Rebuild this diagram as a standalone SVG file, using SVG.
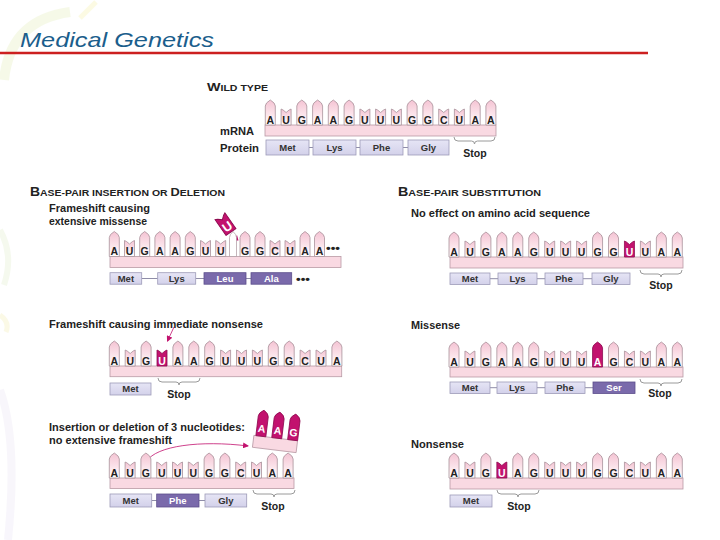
<svg xmlns="http://www.w3.org/2000/svg" width="720" height="540" viewBox="0 0 720 540">
<style>
.b{fill:url(#bg);stroke:#a8929b;stroke-width:0.8}
.m{fill:#c2126e;stroke:#8e0b50;stroke-width:0.8}
.w{fill:#ffffff;stroke:#a8929b;stroke-width:0.8}
.bar{fill:#f9d9e2;stroke:#b89aa5;stroke-width:0.8}
.l{font-family:"Liberation Sans",Arial,sans-serif;font-weight:bold;font-size:10.5px;fill:#222;text-anchor:middle}
.lw{font-family:"Liberation Sans",Arial,sans-serif;font-weight:bold;font-size:10.5px;fill:#fff;text-anchor:middle}
.p{fill:url(#pg);stroke:#9d9bb8;stroke-width:0.8}
.pd{fill:#7a6aab;stroke:#5d4f8c;stroke-width:0.8}
.pt{font-family:"Liberation Sans",Arial,sans-serif;font-weight:bold;font-size:9.5px;fill:#333;text-anchor:middle}
.ptw{font-family:"Liberation Sans",Arial,sans-serif;font-weight:bold;font-size:9.5px;fill:#fff;text-anchor:middle}
.c{stroke:#8f8da8;stroke-width:1;fill:none}
.br{stroke:#9a9a9a;stroke-width:1;fill:none}
.s{font-family:"Liberation Sans",Arial,sans-serif;font-weight:bold;font-size:10.5px;fill:#222;text-anchor:middle}
.t{font-family:"Liberation Sans",Arial,sans-serif;font-weight:bold;font-size:10px;fill:#222}
.arr{stroke:#c2126e;stroke-width:0.8;fill:none}
</style>
<defs>
<linearGradient id="bg" x1="0" y1="0" x2="0" y2="1">
<stop offset="0" stop-color="#f4c3d3"/>
<stop offset="0.55" stop-color="#fbe3ea"/>
<stop offset="1" stop-color="#ffffff"/>
</linearGradient>
<linearGradient id="pg" x1="0" y1="0" x2="0" y2="1">
<stop offset="0" stop-color="#e6e5f5"/>
<stop offset="1" stop-color="#d3d1ea"/>
</linearGradient>
<path id="pur" d="M-5,0 V-19 Q-5,-22 0,-25 Q5,-22 5,-19 V0 Z"/>
<path id="pyr" d="M-5,0 V-16 L-3,-15 L0,-12.5 L3,-15 L5,-16 V0 Z"/>
<marker id="ah" markerWidth="6" markerHeight="6" refX="5" refY="3" orient="auto" markerUnits="userSpaceOnUse">
<path d="M0,0 L6,3 L0,6 Z" fill="#c2126e"/>
</marker>
</defs>
<rect width="720" height="540" fill="#ffffff"/>
<g id="background" fill="none" opacity="0.35">
<path d="M4,80 Q10,20 70,12" stroke="#e6f0c0" stroke-width="10"/>
<path d="M80,18 L96,2" stroke="#f7f3b0" stroke-width="5"/>
<path d="M0,230 Q14,255 4,285" stroke="#e4efd0" stroke-width="6"/>
<path d="M0,315 Q10,322 6,332" stroke="#f5f0b8" stroke-width="5"/>
<path d="M0,390 Q18,440 8,540" stroke="#ece6f5" stroke-width="8"/>
</g>
<g id="title">
<text x="20" y="47" font-family="Liberation Sans,Arial,sans-serif" font-style="italic" font-size="21" fill="#1b5e8c" textLength="194" lengthAdjust="spacingAndGlyphs">Medical Genetics</text>
<line x1="0" y1="53" x2="648" y2="53" stroke="#cc2020" stroke-width="2.5"/>
</g>

<g id="connectors">
<line class="c" x1="309" y1="147.5" x2="313" y2="147.5"/>
<line class="c" x1="356" y1="147.5" x2="360" y2="147.5"/>
<line class="c" x1="403" y1="147.5" x2="408" y2="147.5"/>
<line class="c" x1="141.7" y1="278.5" x2="157.7" y2="278.5"/>
<line class="c" x1="195.7" y1="278.5" x2="204" y2="278.5"/>
<line class="c" x1="246" y1="278.5" x2="251" y2="278.5"/>
<line class="c" x1="490" y1="278.7" x2="498" y2="278.7"/>
<line class="c" x1="537" y1="278.7" x2="545" y2="278.7"/>
<line class="c" x1="583" y1="278.7" x2="592" y2="278.7"/>
<line class="c" x1="490" y1="387.7" x2="497" y2="387.7"/>
<line class="c" x1="537" y1="387.7" x2="545" y2="387.7"/>
<line class="c" x1="585" y1="387.7" x2="593" y2="387.7"/>
<line class="c" x1="151.7" y1="500.5" x2="156.7" y2="500.5"/>
<line class="c" x1="199" y1="500.5" x2="205" y2="500.5"/>
<path d="M233.5,240.5 L238.5,240.5 L237,235 Z" fill="#c2126e"/>
<line class="arr" x1="174" y1="327" x2="167.5" y2="341" marker-end="url(#ah)"/>
<path class="arr" d="M147,461 C156,446 200,440 248,446" marker-end="url(#ah)"/>
</g>

<g id="wild-type">
<text class="t" x="207" y="91" textLength="61" lengthAdjust="spacingAndGlyphs"><tspan font-size="11.5">W</tspan><tspan font-size="8.5">ILD TYPE</tspan></text>
<text class="t" x="220" y="135" textLength="34" lengthAdjust="spacingAndGlyphs">mRNA</text>
<text class="t" x="220" y="152" textLength="39" lengthAdjust="spacingAndGlyphs">Protein</text>
<rect class="bar" x="265" y="125" width="231" height="11"/>
<use href="#pur" class="b" x="270.3" y="125"/><text class="l" x="270.3" y="123.5">A</text>
<use href="#pyr" class="b" x="286.1" y="125"/><text class="l" x="286.1" y="123.5">U</text>
<use href="#pur" class="b" x="301.8" y="125"/><text class="l" x="301.8" y="123.5">G</text>
<use href="#pur" class="b" x="317.6" y="125"/><text class="l" x="317.6" y="123.5">A</text>
<use href="#pur" class="b" x="333.3" y="125"/><text class="l" x="333.3" y="123.5">A</text>
<use href="#pur" class="b" x="349.1" y="125"/><text class="l" x="349.1" y="123.5">G</text>
<use href="#pyr" class="b" x="364.9" y="125"/><text class="l" x="364.9" y="123.5">U</text>
<use href="#pyr" class="b" x="380.6" y="125"/><text class="l" x="380.6" y="123.5">U</text>
<use href="#pyr" class="b" x="396.4" y="125"/><text class="l" x="396.4" y="123.5">U</text>
<use href="#pur" class="b" x="412.1" y="125"/><text class="l" x="412.1" y="123.5">G</text>
<use href="#pur" class="b" x="427.9" y="125"/><text class="l" x="427.9" y="123.5">G</text>
<use href="#pyr" class="b" x="443.7" y="125"/><text class="l" x="443.7" y="123.5">C</text>
<use href="#pyr" class="b" x="459.4" y="125"/><text class="l" x="459.4" y="123.5">U</text>
<use href="#pur" class="b" x="475.2" y="125"/><text class="l" x="475.2" y="123.5">A</text>
<use href="#pur" class="b" x="490.9" y="125"/><text class="l" x="490.9" y="123.5">A</text>
<rect class="p" x="266" y="140" width="43" height="15"/><text class="pt" x="287.5" y="151">Met</text>
<rect class="p" x="313" y="140" width="43" height="15"/><text class="pt" x="334.5" y="151">Lys</text>
<rect class="p" x="360" y="140" width="43" height="15"/><text class="pt" x="381.5" y="151">Phe</text>
<rect class="p" x="408" y="140" width="41" height="15"/><text class="pt" x="428.5" y="151">Gly</text>
<path class="br" d="M454,137 q0,4 4,4 H471.5 q3,0 3,3 q0,-3 3,-3 H491 q4,0 4,-4"/>
<text class="s" x="475" y="157">Stop</text>
</g>

<g id="insertion-missense">
<text class="t" x="30" y="196" textLength="195" lengthAdjust="spacingAndGlyphs"><tspan font-size="12">B</tspan><tspan font-size="9">ASE-PAIR INSERTION OR </tspan><tspan font-size="11">D</tspan><tspan font-size="9">ELETION</tspan></text>
<text class="t" x="49" y="212" textLength="101" lengthAdjust="spacingAndGlyphs">Frameshift causing</text>
<text class="t" x="49" y="225" textLength="98" lengthAdjust="spacingAndGlyphs">extensive missense</text>
<rect class="bar" x="110" y="256.5" width="231" height="11"/>
<use href="#pur" class="b" x="114.3" y="256.5"/><text class="l" x="114.3" y="255">A</text>
<use href="#pyr" class="b" x="129.5" y="256.5"/><text class="l" x="129.5" y="255">U</text>
<use href="#pur" class="b" x="144.7" y="256.5"/><text class="l" x="144.7" y="255">G</text>
<use href="#pur" class="b" x="159.9" y="256.5"/><text class="l" x="159.9" y="255">A</text>
<use href="#pur" class="b" x="175.1" y="256.5"/><text class="l" x="175.1" y="255">A</text>
<use href="#pur" class="b" x="190.3" y="256.5"/><text class="l" x="190.3" y="255">G</text>
<use href="#pyr" class="b" x="205.5" y="256.5"/><text class="l" x="205.5" y="255">U</text>
<use href="#pyr" class="b" x="220.7" y="256.5"/><text class="l" x="220.7" y="255">U</text>
<use href="#pur" class="w" transform="translate(233,256.5) scale(0.7,1)"/>
<use href="#pur" class="b" x="245" y="256.5"/><text class="l" x="245" y="255">G</text>
<use href="#pur" class="b" x="260" y="256.5"/><text class="l" x="260" y="255">G</text>
<use href="#pyr" class="b" x="275" y="256.5"/><text class="l" x="275" y="255">C</text>
<use href="#pyr" class="b" x="290" y="256.5"/><text class="l" x="290" y="255">U</text>
<use href="#pur" class="b" x="305" y="256.5"/><text class="l" x="305" y="255">A</text>
<use href="#pur" class="b" x="319.5" y="256.5"/><text class="l" x="319.5" y="255">A</text>
<text class="t" x="326" y="252" font-size="8" textLength="14" lengthAdjust="spacingAndGlyphs">•••</text>
<g transform="translate(231,232) rotate(-35) scale(1.2)">
<use href="#pyr" class="m"/><text class="lw" y="-2" font-size="9">U</text>
</g>
<rect class="p" x="110" y="272.7" width="31.7" height="11.5"/><text class="pt" x="125.9" y="281.8">Met</text>
<rect class="p" x="157.7" y="272.7" width="38" height="11.5"/><text class="pt" x="176.7" y="281.8">Lys</text>
<rect class="pd" x="204" y="272.7" width="42" height="11.5"/><text class="ptw" x="225" y="281.8">Leu</text>
<rect class="pd" x="251" y="272.7" width="40.7" height="11.5"/><text class="ptw" x="271.3" y="281.8">Ala</text>
<text class="t" x="296" y="283" font-size="8" textLength="14" lengthAdjust="spacingAndGlyphs">•••</text>
</g>

<g id="substitution-silent">
<text class="t" x="398" y="196" textLength="143" lengthAdjust="spacingAndGlyphs"><tspan font-size="12">B</tspan><tspan font-size="9">ASE-PAIR SUBSTITUTION</tspan></text>
<text class="t" x="411" y="217" textLength="179" lengthAdjust="spacingAndGlyphs">No effect on amino acid sequence</text>
<rect class="bar" x="450" y="257" width="233" height="11"/>
<use href="#pur" class="b" x="454" y="257"/><text class="l" x="454" y="255.5">A</text>
<use href="#pyr" class="b" x="469.95" y="257"/><text class="l" x="469.95" y="255.5">U</text>
<use href="#pur" class="b" x="485.9" y="257"/><text class="l" x="485.9" y="255.5">G</text>
<use href="#pur" class="b" x="501.85" y="257"/><text class="l" x="501.85" y="255.5">A</text>
<use href="#pur" class="b" x="517.8" y="257"/><text class="l" x="517.8" y="255.5">A</text>
<use href="#pur" class="b" x="533.75" y="257"/><text class="l" x="533.75" y="255.5">G</text>
<use href="#pyr" class="b" x="549.7" y="257"/><text class="l" x="549.7" y="255.5">U</text>
<use href="#pyr" class="b" x="565.65" y="257"/><text class="l" x="565.65" y="255.5">U</text>
<use href="#pyr" class="b" x="581.6" y="257"/><text class="l" x="581.6" y="255.5">U</text>
<use href="#pur" class="b" x="597.55" y="257"/><text class="l" x="597.55" y="255.5">G</text>
<use href="#pur" class="b" x="613.5" y="257"/><text class="l" x="613.5" y="255.5">G</text>
<use href="#pyr" class="m" x="629.45" y="257"/><text class="lw" x="629.45" y="255.5">U</text>
<use href="#pyr" class="b" x="645.4" y="257"/><text class="l" x="645.4" y="255.5">U</text>
<use href="#pur" class="b" x="661.35" y="257"/><text class="l" x="661.35" y="255.5">A</text>
<use href="#pur" class="b" x="677.3" y="257"/><text class="l" x="677.3" y="255.5">A</text>
<rect class="p" x="450" y="273" width="40" height="11.5"/><text class="pt" x="470" y="282">Met</text>
<rect class="p" x="498" y="273" width="39" height="11.5"/><text class="pt" x="517.5" y="282">Lys</text>
<rect class="p" x="545" y="273" width="38" height="11.5"/><text class="pt" x="564" y="282">Phe</text>
<rect class="p" x="592" y="273" width="38" height="11.5"/><text class="pt" x="611" y="282">Gly</text>
<path class="br" d="M640,270 q0,4 4,4 H658 q3,0 3,3 q0,-3 3,-3 H678 q4,0 4,-4"/>
<text class="s" x="661" y="289">Stop</text>
</g>

<g id="frameshift-nonsense">
<text class="t" x="49" y="328" textLength="214" lengthAdjust="spacingAndGlyphs">Frameshift causing immediate nonsense</text>
<rect class="bar" x="110" y="366" width="231.7" height="10.7"/>
<use href="#pur" class="b" x="114.3" y="366"/><text class="l" x="114.3" y="364.5">A</text>
<use href="#pyr" class="b" x="130.2" y="366"/><text class="l" x="130.2" y="364.5">U</text>
<use href="#pur" class="b" x="146.1" y="366"/><text class="l" x="146.1" y="364.5">G</text>
<use href="#pyr" class="m" x="162" y="366"/><text class="lw" x="162" y="364.5">U</text>
<use href="#pur" class="b" x="177.9" y="366"/><text class="l" x="177.9" y="364.5">A</text>
<use href="#pur" class="b" x="193.8" y="366"/><text class="l" x="193.8" y="364.5">A</text>
<use href="#pur" class="b" x="209.7" y="366"/><text class="l" x="209.7" y="364.5">G</text>
<use href="#pyr" class="b" x="225.6" y="366"/><text class="l" x="225.6" y="364.5">U</text>
<use href="#pyr" class="b" x="241.5" y="366"/><text class="l" x="241.5" y="364.5">U</text>
<use href="#pyr" class="b" x="257.4" y="366"/><text class="l" x="257.4" y="364.5">U</text>
<use href="#pur" class="b" x="273.3" y="366"/><text class="l" x="273.3" y="364.5">G</text>
<use href="#pur" class="b" x="289.2" y="366"/><text class="l" x="289.2" y="364.5">G</text>
<use href="#pyr" class="b" x="305.1" y="366"/><text class="l" x="305.1" y="364.5">C</text>
<use href="#pyr" class="b" x="321" y="366"/><text class="l" x="321" y="364.5">U</text>
<use href="#pur" class="b" x="336.9" y="366"/><text class="l" x="336.9" y="364.5">A</text>
<rect class="p" x="110" y="383" width="41" height="12"/><text class="pt" x="130.5" y="392.3">Met</text>
<path class="br" d="M158,378 q0,4 4,4 H176 q3,0 3,3 q0,-3 3,-3 H196 q4,0 4,-4"/>
<text class="s" x="179" y="398">Stop</text>
</g>

<g id="substitution-missense">
<text class="t" x="411" y="329" textLength="49" lengthAdjust="spacingAndGlyphs">Missense</text>
<rect class="bar" x="450" y="367" width="233" height="10"/>
<use href="#pur" class="b" x="454" y="367"/><text class="l" x="454" y="365.5">A</text>
<use href="#pyr" class="b" x="469.95" y="367"/><text class="l" x="469.95" y="365.5">U</text>
<use href="#pur" class="b" x="485.9" y="367"/><text class="l" x="485.9" y="365.5">G</text>
<use href="#pur" class="b" x="501.85" y="367"/><text class="l" x="501.85" y="365.5">A</text>
<use href="#pur" class="b" x="517.8" y="367"/><text class="l" x="517.8" y="365.5">A</text>
<use href="#pur" class="b" x="533.75" y="367"/><text class="l" x="533.75" y="365.5">G</text>
<use href="#pyr" class="b" x="549.7" y="367"/><text class="l" x="549.7" y="365.5">U</text>
<use href="#pyr" class="b" x="565.65" y="367"/><text class="l" x="565.65" y="365.5">U</text>
<use href="#pyr" class="b" x="581.6" y="367"/><text class="l" x="581.6" y="365.5">U</text>
<use href="#pur" class="m" x="597.55" y="367"/><text class="lw" x="597.55" y="365.5">A</text>
<use href="#pur" class="b" x="613.5" y="367"/><text class="l" x="613.5" y="365.5">G</text>
<use href="#pyr" class="b" x="629.45" y="367"/><text class="l" x="629.45" y="365.5">C</text>
<use href="#pyr" class="b" x="645.4" y="367"/><text class="l" x="645.4" y="365.5">U</text>
<use href="#pur" class="b" x="661.35" y="367"/><text class="l" x="661.35" y="365.5">A</text>
<use href="#pur" class="b" x="677.3" y="367"/><text class="l" x="677.3" y="365.5">A</text>
<rect class="p" x="450" y="382" width="40" height="11.5"/><text class="pt" x="470" y="391">Met</text>
<rect class="p" x="497" y="382" width="40" height="11.5"/><text class="pt" x="517" y="391">Lys</text>
<rect class="p" x="545" y="382" width="40" height="11.5"/><text class="pt" x="565" y="391">Phe</text>
<rect class="pd" x="593" y="382" width="42" height="11.5"/><text class="ptw" x="614" y="391">Ser</text>
<path class="br" d="M640,379 q0,4 4,4 H658 q3,0 3,3 q0,-3 3,-3 H678 q4,0 4,-4"/>
<text class="s" x="660" y="397">Stop</text>
</g>

<g id="triplet-indel">
<text class="t" x="49" y="431" textLength="196" lengthAdjust="spacingAndGlyphs">Insertion or deletion of 3 nucleotides:</text>
<text class="t" x="49" y="443.5" textLength="123" lengthAdjust="spacingAndGlyphs">no extensive frameshift</text>
<g transform="rotate(7 275 444)">
<rect class="bar" x="253" y="438" width="44" height="12"/>
<use href="#pur" class="m" transform="translate(260,438) scale(1,1.05)"/><text class="lw" x="260" y="434">A</text>
<use href="#pur" class="m" transform="translate(276,438) scale(1,1.05)"/><text class="lw" x="276" y="434">A</text>
<use href="#pur" class="m" transform="translate(292,438) scale(1,1.05)"/><text class="lw" x="292" y="434">G</text>
</g>
<rect class="bar" x="110" y="478" width="184" height="10.5"/>
<use href="#pur" class="b" x="114.3" y="478"/><text class="l" x="114.3" y="476.5">A</text>
<use href="#pyr" class="b" x="130.1" y="478"/><text class="l" x="130.1" y="476.5">U</text>
<use href="#pur" class="b" x="145.9" y="478"/><text class="l" x="145.9" y="476.5">G</text>
<use href="#pyr" class="b" x="161.7" y="478"/><text class="l" x="161.7" y="476.5">U</text>
<use href="#pyr" class="b" x="177.5" y="478"/><text class="l" x="177.5" y="476.5">U</text>
<use href="#pyr" class="b" x="193.3" y="478"/><text class="l" x="193.3" y="476.5">U</text>
<use href="#pur" class="b" x="209.1" y="478"/><text class="l" x="209.1" y="476.5">G</text>
<use href="#pur" class="b" x="224.9" y="478"/><text class="l" x="224.9" y="476.5">G</text>
<use href="#pyr" class="b" x="240.7" y="478"/><text class="l" x="240.7" y="476.5">C</text>
<use href="#pyr" class="b" x="256.5" y="478"/><text class="l" x="256.5" y="476.5">U</text>
<use href="#pur" class="b" x="272.3" y="478"/><text class="l" x="272.3" y="476.5">A</text>
<use href="#pur" class="b" x="288.1" y="478"/><text class="l" x="288.1" y="476.5">A</text>
<rect class="p" x="110" y="494" width="41.7" height="13"/><text class="pt" x="130.8" y="503.8">Met</text>
<rect class="pd" x="156.7" y="494" width="42.3" height="13"/><text class="ptw" x="177.8" y="503.8">Phe</text>
<rect class="p" x="205" y="494" width="41.7" height="13"/><text class="pt" x="225.8" y="503.8">Gly</text>
<path class="br" d="M253,490 q0,4 4,4 H271 q3,0 3,3 q0,-3 3,-3 H291 q4,0 4,-4"/>
<text class="s" x="273" y="510">Stop</text>
</g>

<g id="substitution-nonsense">
<text class="t" x="411" y="448" textLength="53" lengthAdjust="spacingAndGlyphs">Nonsense</text>
<rect class="bar" x="450" y="478" width="233" height="11"/>
<use href="#pur" class="b" x="454" y="478"/><text class="l" x="454" y="476.5">A</text>
<use href="#pyr" class="b" x="469.95" y="478"/><text class="l" x="469.95" y="476.5">U</text>
<use href="#pur" class="b" x="485.9" y="478"/><text class="l" x="485.9" y="476.5">G</text>
<use href="#pyr" class="m" x="501.85" y="478"/><text class="lw" x="501.85" y="476.5">U</text>
<use href="#pur" class="b" x="517.8" y="478"/><text class="l" x="517.8" y="476.5">A</text>
<use href="#pur" class="b" x="533.75" y="478"/><text class="l" x="533.75" y="476.5">G</text>
<use href="#pyr" class="b" x="549.7" y="478"/><text class="l" x="549.7" y="476.5">U</text>
<use href="#pyr" class="b" x="565.65" y="478"/><text class="l" x="565.65" y="476.5">U</text>
<use href="#pyr" class="b" x="581.6" y="478"/><text class="l" x="581.6" y="476.5">U</text>
<use href="#pur" class="b" x="597.55" y="478"/><text class="l" x="597.55" y="476.5">G</text>
<use href="#pur" class="b" x="613.5" y="478"/><text class="l" x="613.5" y="476.5">G</text>
<use href="#pyr" class="b" x="629.45" y="478"/><text class="l" x="629.45" y="476.5">C</text>
<use href="#pyr" class="b" x="645.4" y="478"/><text class="l" x="645.4" y="476.5">U</text>
<use href="#pur" class="b" x="661.35" y="478"/><text class="l" x="661.35" y="476.5">A</text>
<use href="#pur" class="b" x="677.3" y="478"/><text class="l" x="677.3" y="476.5">A</text>
<rect class="p" x="450" y="495" width="42" height="12"/><text class="pt" x="471" y="504.3">Met</text>
<path class="br" d="M497,490 q0,4 4,4 H515 q3,0 3,3 q0,-3 3,-3 H535 q4,0 4,-4"/>
<text class="s" x="519" y="510">Stop</text>
</g>
</svg>
